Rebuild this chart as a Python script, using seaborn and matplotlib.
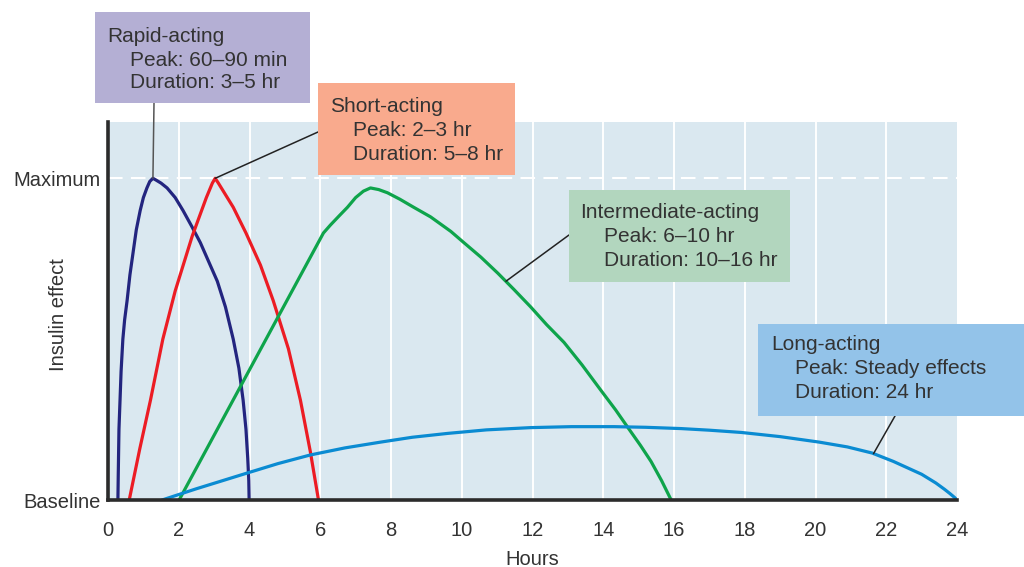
import numpy as np
import pandas as pd
import matplotlib
matplotlib.use("Agg")
import matplotlib.pyplot as plt
from matplotlib.patches import Rectangle
import seaborn as sns

# curve readings (hours, relative insulin effect 0 = baseline, 1 = maximum)
rapid_x = [0.28, 0.29, 0.31, 0.34, 0.37, 0.42, 0.47, 0.54, 0.62, 0.71, 0.80, 0.91, 1.00, 1.10, 1.18,
           1.27, 1.35, 1.50, 1.67, 1.90, 2.12, 2.37, 2.61, 2.85, 3.09, 3.32, 3.54, 3.70, 3.82, 3.90,
           3.95, 3.98, 3.99]
rapid_y = [0.0, 0.08, 0.22, 0.31, 0.40, 0.50, 0.56, 0.62, 0.70, 0.77, 0.84, 0.90, 0.94, 0.97, 0.99,
           1.0, 0.995, 0.985, 0.97, 0.94, 0.90, 0.85, 0.80, 0.74, 0.68, 0.60, 0.50, 0.41, 0.31, 0.22,
           0.13, 0.06, 0.0]

short_x = [0.60, 0.90, 1.20, 1.55, 1.90, 2.38, 2.78, 2.95, 3.03, 3.12, 3.54, 3.90, 4.31, 4.67, 5.10,
           5.44, 5.72, 5.95]
short_y = [0.0, 0.16, 0.31, 0.50, 0.65, 0.82, 0.94, 0.985, 1.0, 0.985, 0.91, 0.83, 0.73, 0.62, 0.47,
           0.31, 0.15, 0.0]

inter_x = [2.01, 6.09, 6.29, 6.55, 6.77, 7.00, 7.22, 7.42, 7.65, 7.90, 8.25, 8.64, 9.12, 9.69, 10.06,
           10.54, 11.02, 11.47, 11.95, 12.40, 12.89, 13.40, 13.94, 14.35, 14.73, 15.05, 15.35, 15.65,
           15.92]
inter_y = [0.0, 0.83, 0.855, 0.885, 0.91, 0.94, 0.96, 0.97, 0.965, 0.955, 0.935, 0.91, 0.88, 0.835, 0.80,
           0.755, 0.705, 0.655, 0.60, 0.545, 0.49, 0.42, 0.34, 0.28, 0.22, 0.17, 0.12, 0.06, 0.0]

long_x = [1.53, 2.00, 2.50, 3.00, 3.94, 4.80, 5.72, 6.70, 7.71, 8.60, 9.60, 10.70, 11.95, 13.10, 14.30,
          15.20, 16.20, 17.00, 17.90, 19.00, 20.10, 20.90, 21.60, 22.20, 22.60, 23.00, 23.40, 23.65,
          23.80, 23.93, 24.00]
long_y = [0.0, 0.017, 0.035, 0.052, 0.084, 0.113, 0.14, 0.162, 0.18, 0.195, 0.207, 0.218, 0.225, 0.228,
          0.228, 0.226, 0.222, 0.217, 0.21, 0.197, 0.18, 0.165, 0.146, 0.12, 0.10, 0.08, 0.053, 0.033,
          0.02, 0.008, 0.0]

names = ["Rapid-acting", "Short-acting", "Intermediate-acting", "Long-acting"]
colors = ["#23257f", "#ec1c24", "#0ea44b", "#0a8bd2"]
box_colors = ["#b4afd4", "#f9aa8d", "#b2d6be", "#93c3e9"]
peaks = ["Peak: 60\u201390 min", "Peak: 2\u20133 hr", "Peak: 6\u201310 hr", "Peak: Steady effects"]
durations = ["Duration: 3\u20135 hr", "Duration: 5\u20138 hr", "Duration: 10\u201316 hr", "Duration: 24 hr"]
hour_ticks = list(range(0, 25, 2))

frames = []
for n, xs, ys in zip(names, [rapid_x, short_x, inter_x, long_x], [rapid_y, short_y, inter_y, long_y]):
    frames.append(pd.DataFrame({"hours": xs, "effect": ys, "type": n}))
df = pd.concat(frames, ignore_index=True)

sns.set_style("white", rc={"axes.facecolor": "#dae8f0"})
plt.rcParams["font.family"] = ["Liberation Sans", "DejaVu Sans"]
txt = "#333333"
fs = 14.5
fs_box = 15

fig = plt.figure(figsize=(10.24, 5.67), dpi=100)
W, H = 1024, 567
ax = fig.add_axes([108 / W, 1 - 500 / H, (957 - 108) / W, (500 - 122) / H])

# vertical white grid
for h in hour_ticks[1:-1]:
    ax.axvline(h, color="white", lw=1.4, zorder=1)
ax.axhline(1.0, color="white", lw=1.5, dashes=(7, 4), zorder=1)

sns.lineplot(data=df, x="hours", y="effect", hue="type", palette=dict(zip(names, colors)),
             sort=False, estimator=None, linewidth=2.3, legend=False, ax=ax, zorder=3)

ax.set_xlim(0, 24)
ax.set_ylim(0, 1.175)
ax.set_xticks(hour_ticks)
ax.set_xticklabels([str(h) for h in hour_ticks], fontsize=fs, color=txt)
ax.set_yticks([0, 1])
ax.set_yticklabels(["Baseline", "Maximum"], fontsize=fs, color=txt)
ax.tick_params(axis="x", direction="in", length=7, width=1.3, color="#333333", pad=15)
ax.tick_params(axis="y", length=0, pad=5)
ax.set_xlabel("Hours", fontsize=fs, color=txt, labelpad=7)
ax.set_ylabel("Insulin effect", fontsize=fs, color=txt)
ax.yaxis.set_label_coords(-0.047, 0.49)
for s in ["top", "right"]:
    ax.spines[s].set_visible(False)
for s in ["left", "bottom"]:
    ax.spines[s].set_color("#2b2b2b")
    ax.spines[s].set_linewidth(2.6)
ax.spines["bottom"].set_zorder(5)

# annotation boxes (figure pixels): box, text x positions, line y centres
boxes = [
    ((95, 12, 310, 103), (107, 130), (37, 60, 83)),
    ((318, 83, 515, 175), (330, 353), (107, 130, 154)),
    ((569, 190, 790, 282), (580, 604), (212, 236, 260)),
    ((758, 324, 1024, 416), (771, 795), (345, 369, 392)),
]
for i, ((x0, y0, x1, y1), (tx0, tx1), (l1, l2, l3)) in enumerate(boxes):
    fig.patches.append(Rectangle((x0 / W, 1 - y1 / H), (x1 - x0) / W, (y1 - y0) / H,
                                 transform=fig.transFigure, facecolor=box_colors[i],
                                 edgecolor="none", zorder=4))
    fig.text(tx0 / W, 1 - l1 / H, names[i], fontsize=fs_box, color=txt, va="center", zorder=6)
    fig.text(tx1 / W, 1 - l2 / H, peaks[i], fontsize=fs_box, color=txt, va="center", zorder=6)
    fig.text(tx1 / W, 1 - l3 / H, durations[i], fontsize=fs_box, color=txt, va="center", zorder=6)

# leader lines: (start in figure pixels, end on curve in data)
leaders = [
    ((154, 103), (1.27, 1.0), "#555555"),
    ((318, 132), (3.03, 1.0), "#222222"),
    ((569, 235), (11.25, 0.68), "#222222"),
    ((895, 416), (21.64, 0.144), "#222222"),
]
for (px, py), (dx, dy), c in leaders:
    ax.annotate("", xy=(dx, dy), xycoords="data", xytext=(px / W, 1 - py / H),
                textcoords="figure fraction", annotation_clip=False,
                arrowprops=dict(arrowstyle="-", color=c, lw=1.1, shrinkA=0, shrinkB=0))

fig.savefig("out.png", dpi=100)
